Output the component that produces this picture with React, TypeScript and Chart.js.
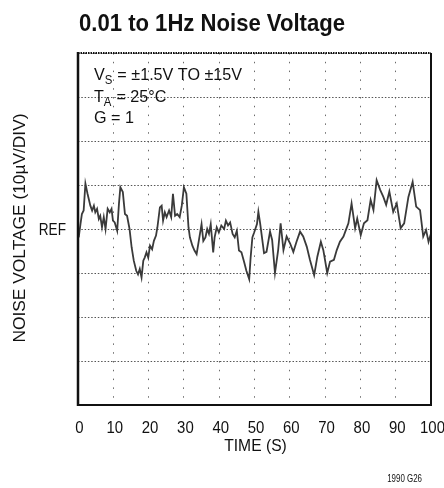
import { useEffect, useRef } from 'react';
import { Chart, registerables } from 'chart.js';

Chart.register(...registerables);

const FONT = '"Liberation Sans", Arial, sans-serif';

const TITLE = '0.01 to 1Hz Noise Voltage';
const X_TITLE = 'TIME (S)';
const Y_TITLE = 'NOISE VOLTAGE (10µV/DIV)';
const Y_REF_LABEL = 'REF';
const PART_CODE = '1990 G26';

// [main text, subscript, rest]
const CONDITIONS: [string, string, string][] = [
  ['V', 'S', ' = ±1.5V TO ±15V'],
  ['T', 'A', ' = 25°C'],
  ['G', '', ' = 1'],
];

const X_MIN = 0;
const X_MAX = 100;
const X_STEP = 10;
const Y_MIN = -4;
const Y_MAX = 4;

// time (s)
const TIME_S = [
  0.2, 0.7, 1.1, 1.6, 2.1, 2.7, 3.5, 4.0, 4.5, 4.9, 5.4, 5.9, 6.3, 6.8, 7.3,
  7.8, 8.4, 9.0, 9.5, 9.9, 10.4, 11.1, 11.6, 12.0, 12.7, 13.3, 13.9, 14.6, 15.2,
  15.8, 16.5, 17.0, 17.5, 18.0, 18.5, 18.9, 19.4, 19.9, 20.4, 21.0, 21.5, 22.1,
  22.5, 23.2, 23.7, 24.1, 24.6, 25.1, 25.8, 26.4, 26.9, 27.5, 28.1, 28.8, 29.4,
  30.0, 30.7, 31.3, 31.7, 32.4, 33.0, 33.6, 34.3, 35.0, 35.5, 36.1, 36.6, 37.1,
  37.6, 38.3, 38.7, 39.3, 39.9, 40.6, 41.4, 41.9, 42.5, 43.1, 43.8, 44.4, 45.0,
  45.6, 46.3, 47.1, 47.7, 48.5, 48.9, 49.4, 49.9, 50.7, 51.1, 51.6, 52.7, 53.4,
  54.4, 55, 55.8, 56.7, 57.4, 58.2, 59.1, 60.1, 61, 61.9, 62.9, 63.8, 64.8,
  65.7, 66.9, 67.8, 68.8, 69.5, 70.6, 71.4, 72.5, 73.3, 74.2, 75.2, 75.9, 76.6,
  77.5, 78.5, 79.1, 80.1, 81, 82, 82.9, 83.7, 84.6, 85.6, 86.5, 87.3, 88.2,
  89.3, 90.3, 91.4, 92.4, 93.6, 94.8, 95.8, 96.9, 97.8, 98.6, 99.3, 100,
];

// noise voltage in divisions (10µV/DIV), relative to REF
const NOISE_DIV = [
  -0.19, 0.11, 0.34, 0.42, 1.03, 0.8, 0.53, 0.42, 0.53, 0.38, 0.46, 0.23, 0.3,
  0.04, 0.27, 0, 0.46, 0.38, 0.46, 0.19, 0.15, -0.04, 0.57, 0.95, 0.84, 0.34,
  0.3, 0, -0.42, -0.72, -0.95, -1.03, -0.91, -1.1, -0.72, -0.65, -0.53, -0.65,
  -0.38, -0.46, -0.27, -0.15, 0.04, 0.49, 0.53, 0.19, 0.38, 0.27, 0.42, 0.27,
  0.8, 0.3, 0.34, 0.27, 0.53, 0.95, 0.8, 0.04, -0.19, -0.38, -0.49, -0.57,
  -0.23, 0.11, -0.27, -0.19, 0, -0.11, 0.11, -0.53, -0.19, 0.04, -0.08, 0.08,
  0, 0.19, 0.08, 0.15, -0.11, -0.19, -0.04, -0.49, -0.53, -0.76, -0.95, -1.14,
  -0.65, -0.19, -0.08, 0.11, 0.39, 0.13, -0.55, -0.52, -0.06, -0.25, -1.0,
  -0.48, 0.13, -0.48, -0.17, -0.33, -0.52, -0.29, -0.06, -0.17, -0.4, -0.7,
  -1.05, -0.63, -0.29, -0.48, -1.0, -0.74, -0.7, -0.48, -0.29, -0.17, -0.02,
  0.13, 0.58, 0.02, 0.24, -0.14, 0.13, 0.2, 0.66, 0.43, 1.11, 0.89, 0.73, 0.55,
  0.85, 0.39, 0.58, 0.02, 0.13, 0.73, 1.07, 0.51, 0.43, -0.17, -0.02, -0.29,
  -0.1,
];

const TEXT_COLOR = '#111';

function drawText(
  ctx: CanvasRenderingContext2D,
  text: string,
  x: number,
  y: number,
  font: string,
  align: CanvasTextAlign,
  sx: number,
  rotate = 0,
  baseline: CanvasTextBaseline = 'alphabetic'
) {
  ctx.save();
  ctx.translate(x, y);
  if (rotate) ctx.rotate(rotate);
  ctx.scale(sx, 1);
  ctx.font = font;
  ctx.textAlign = align;
  ctx.textBaseline = baseline;
  ctx.fillStyle = TEXT_COLOR;
  ctx.fillText(text, 0, 0);
  ctx.restore();
}

const decorPlugin = {
  id: 'decor',
  afterDraw(chart: any) {
    const { ctx, chartArea } = chart;
    const { left, right, top, bottom } = chartArea;
    const xs = chart.scales.x;
    const ys = chart.scales.y;
    ctx.save();
    // frame
    ctx.strokeStyle = '#111';
    ctx.lineWidth = 2;
    ctx.setLineDash([]);
    ctx.beginPath();
    ctx.moveTo(right, top);
    ctx.lineTo(right, bottom);
    ctx.lineTo(left, bottom);
    ctx.stroke();
    ctx.lineWidth = 2.5;
    ctx.beginPath();
    ctx.moveTo(left, top - 1);
    ctx.lineTo(left, bottom + 1);
    ctx.stroke();
    ctx.lineWidth = 2;
    ctx.setLineDash([1.5, 1]);
    ctx.beginPath();
    ctx.moveTo(left, top);
    ctx.lineTo(right, top);
    ctx.stroke();
    ctx.setLineDash([]);
    ctx.restore();

    // title
    ctx.save();
    ctx.font = `bold 24px ${FONT}`;
    const tw = ctx.measureText(TITLE).width;
    ctx.restore();
    drawText(ctx, TITLE, 79, 31, `bold 24px ${FONT}`, 'left', 266 / tw);

    // conditions
    const sxc = 0.95;
    CONDITIONS.forEach((c, i) => {
      const y = top + 27 + i * 21.5;
      let x = left + 16;
      ctx.save();
      drawText(ctx, c[0], x, y, `17px ${FONT}`, 'left', sxc);
      ctx.font = `17px ${FONT}`;
      x += ctx.measureText(c[0]).width * sxc;
      if (c[1]) {
        drawText(ctx, c[1], x, y + 4, `12px ${FONT}`, 'left', sxc);
        ctx.font = `12px ${FONT}`;
        x += ctx.measureText(c[1]).width * sxc + 0.5;
      }
      drawText(ctx, c[2], x, y, `17px ${FONT}`, 'left', sxc);
      ctx.restore();
    });

    // x tick labels
    xs.ticks.forEach((t: any) => {
      const px = xs.getPixelForValue(t.value);
      drawText(ctx, String(t.value), px + 1.5, 433, `17px ${FONT}`, 'center', 0.88);
    });
    // y tick labels (only REF)
    ys.ticks.forEach((t: any) => {
      if (t.value === 0) {
        drawText(ctx, Y_REF_LABEL, left - 12, ys.getPixelForValue(0) + 6, `17px ${FONT}`, 'right', 0.8);
      }
    });

    // axis titles
    drawText(ctx, X_TITLE, (left + right) / 2 + 1, 451, `17px ${FONT}`, 'center', 0.92);
    drawText(ctx, Y_TITLE, 20, 228, `17px ${FONT}`, 'center', 1.02, -Math.PI / 2, 'middle');

    // part code
    drawText(ctx, PART_CODE, 422, 482, `11px ${FONT}`, 'right', 0.72);
  },
};

export default function App() {
  const ref = useRef<HTMLCanvasElement | null>(null);

  useEffect(() => {
    if (!ref.current) return;
    const points = TIME_S.map((t, i) => ({ x: t, y: NOISE_DIV[i] }));
    const chart = new Chart(ref.current, {
      type: 'line',
      data: {
        datasets: [
          {
            data: points,
            borderColor: '#3a3a3a',
            borderWidth: 1.8,
            pointRadius: 0,
            tension: 0,
            fill: false,
          },
        ],
      },
      options: {
        animation: false,
        responsive: false,
        events: [],
        layout: { padding: { top: 53, right: 13, left: 0, bottom: 0 } },
        plugins: {
          legend: { display: false },
          tooltip: { enabled: false },
          title: { display: false },
        },
        scales: {
          x: {
            type: 'linear',
            min: X_MIN,
            max: X_MAX,
            afterFit: (s: any) => {
              s.height = 83;
              s.paddingLeft = 0;
              s.paddingRight = 0;
            },
            ticks: { stepSize: X_STEP, display: false, autoSkip: false },
            grid: { color: '#6a6a6a', lineWidth: 1, drawTicks: false },
            border: { display: false, dash: [1.5, 7.3] },
            title: { display: false },
          },
          y: {
            type: 'linear',
            min: Y_MIN,
            max: Y_MAX,
            afterFit: (s: any) => {
              s.width = 78;
              s.paddingTop = 0;
              s.paddingBottom = 0;
            },
            ticks: { stepSize: 1, display: false },
            grid: { color: '#555', lineWidth: 1, drawTicks: false },
            border: { display: false, dash: [1.5, 1.8] },
            title: { display: false },
          },
        },
      },
      plugins: [decorPlugin],
    });
    return () => chart.destroy();
  }, []);

  return (
    <div style={{ position: 'fixed', left: 0, top: 0, width: 444, height: 488, background: '#fff' }}>
      <canvas ref={ref} width={444} height={488} />
    </div>
  );
}
